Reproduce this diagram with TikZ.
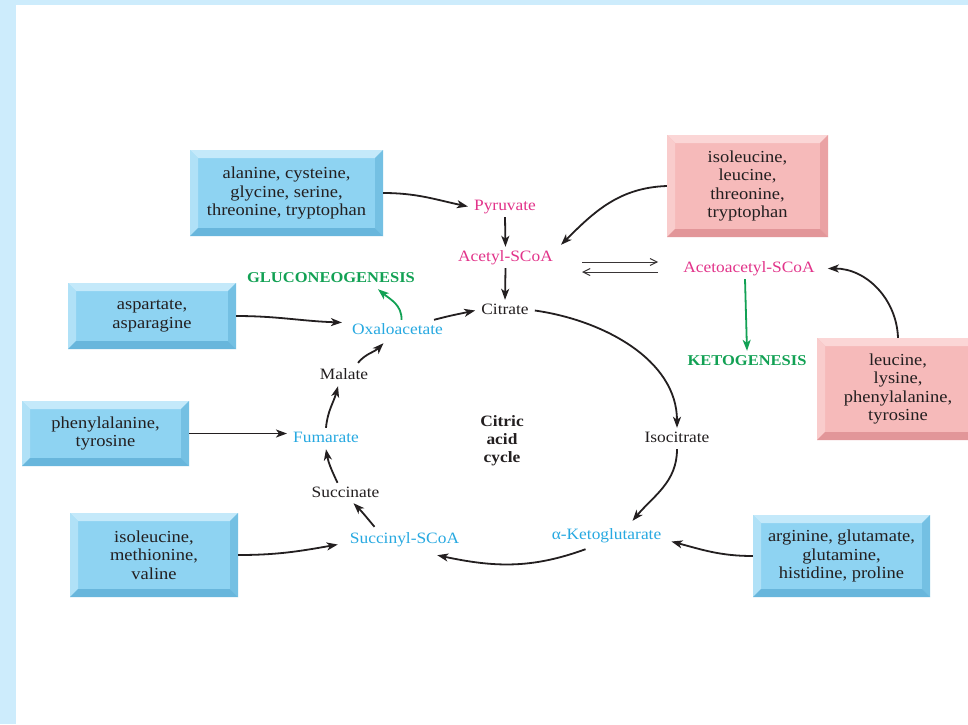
\documentclass[tikz,border=0pt]{standalone}
\usepackage{fontspec}
\setmainfont{Liberation Serif}[FakeStretch=1.1]
\usetikzlibrary{arrows.meta,calc}

\definecolor{framebg}{RGB}{205,236,252}
\definecolor{inkblack}{RGB}{35,31,32}
\definecolor{metpink}{RGB}{226,51,138}
\definecolor{metblue}{RGB}{39,169,225}
\definecolor{metgreen}{RGB}{18,161,84}
% blue bevelled panels
\definecolor{bface}{RGB}{142,211,242}
\definecolor{btop}{RGB}{196,233,250}
\definecolor{bleft}{RGB}{176,225,247}
\definecolor{bright}{RGB}{116,192,227}
\definecolor{bbottom}{RGB}{104,182,220}
% pink bevelled panels
\definecolor{pface}{RGB}{246,186,186}
\definecolor{ptop}{RGB}{251,214,214}
\definecolor{pleft}{RGB}{249,204,204}
\definecolor{pright}{RGB}{234,162,164}
\definecolor{pbottom}{RGB}{226,150,153}

\newcommand\boxfont{\fontsize{16.8}{18.5}\selectfont}
\newcommand\labfont{\fontsize{15.8}{18}\selectfont}

\tikzset{
  bevelbox/.style n args={5}{
    draw=none, fill=#1, inner sep=0pt, align=center, font=\boxfont, text=inkblack,
    path picture={
      \fill[#2] let \p1=(path picture bounding box.north west),
                    \p2=(path picture bounding box.south east) in
        (\x1,\y1) -- (\x2,\y1) -- ({\x2-8pt},{\y1-8pt}) -- ({\x1+8pt},{\y1-8pt}) -- cycle;
      \fill[#3] let \p1=(path picture bounding box.north west),
                    \p2=(path picture bounding box.south east) in
        (\x1,\y1) -- ({\x1+8pt},{\y1-8pt}) -- ({\x1+8pt},{\y2+8pt}) -- (\x1,\y2) -- cycle;
      \fill[#4] let \p1=(path picture bounding box.north west),
                    \p2=(path picture bounding box.south east) in
        (\x2,\y1) -- (\x2,\y2) -- ({\x2-8pt},{\y2+8pt}) -- ({\x2-8pt},{\y1-8pt}) -- cycle;
      \fill[#5] let \p1=(path picture bounding box.north west),
                    \p2=(path picture bounding box.south east) in
        (\x1,\y2) -- ({\x1+8pt},{\y2+8pt}) -- ({\x2-8pt},{\y2+8pt}) -- (\x2,\y2) -- cycle;
    }
  },
  bluebox/.style={bevelbox={bface}{btop}{bleft}{bright}{bbottom}},
  pinkbox/.style={bevelbox={pface}{ptop}{pleft}{pright}{pbottom}},
  lab/.style={inner xsep=6pt, inner ysep=3pt, text height=11pt, text depth=4pt,
              font=\labfont, anchor=base, text=inkblack},
  pinklab/.style={lab, text=metpink},
  bluelab/.style={lab, text=metblue},
  greenlab/.style={lab, text=metgreen, font=\fontsize{15}{18}\selectfont\bfseries},
  arr/.style={line width=1.8pt, draw=inkblack,
              -{Stealth[length=11pt,width=8pt,inset=3pt]}},
  garr/.style={arr, draw=metgreen},
  thinarr/.style={line width=1pt, draw=inkblack!90,
                  -{Straight Barb[length=7pt,width=7pt]}}
}

\begin{document}
\begin{tikzpicture}[x=1pt,y=-1pt]
\useasboundingbox (0,0) rectangle (968,724);
\fill[framebg] (0,0) rectangle (968,724);
\fill[white] (16,5) rectangle (968,724);

% amino-acid panels
\node[bluebox, minimum width=193pt, minimum height=86pt] (ala) at (286.5,193)
  {alanine, cysteine,\\glycine, serine,\\threonine, tryptophan};
\node[bluebox, minimum width=168pt, minimum height=66pt] (asp) at (152,316)
  {aspartate,\\asparagine};
\node[bluebox, minimum width=167pt, minimum height=65pt] (phe) at (105.5,433.5)
  {phenylalanine,\\tyrosine};
\node[bluebox, minimum width=168pt, minimum height=84pt] (met) at (154,555)
  {isoleucine,\\methionine,\\valine};
\node[bluebox, minimum width=177pt, minimum height=82pt] (arg) at (841.5,556)
  {arginine, glutamate,\\glutamine,\\histidine, proline};
\node[pinkbox, minimum width=161pt, minimum height=102pt] (ilt) at (747.5,186)
  {isoleucine,\\leucine,\\threonine,\\tryptophan};
\node[pinkbox, minimum width=162pt, minimum height=102pt] (lly) at (898,389)
  {leucine,\\lysine,\\phenylalanine,\\tyrosine};

% metabolites
\node[pinklab] (pyr) at (505,210) {Pyruvate};
\node[pinklab] (acc) at (505.5,261) {Acetyl-SCoA};
\node[lab] (cit) at (505,314) {Citrate};
\node[pinklab] (aca) at (749,272) {Acetoacetyl-SCoA};
\node[greenlab] (keto) at (747,365) {KETOGENESIS};
\node[greenlab] (glu) at (331,282) {GLUCONEOGENESIS};
\node[bluelab] (oxa) at (397.5,334) {Oxaloacetate};
\node[lab] (mal) at (344,379) {Malate};
\node[bluelab] (fum) at (326,442) {Fumarate};
\node[lab] (scn) at (345.5,497) {Succinate};
\node[bluelab] (sca) at (404.5,543) {Succinyl-SCoA};
\node[bluelab] (akg) at (606.5,539) {α-Ketoglutarate};
\node[lab] (ict) at (677,442) {Isocitrate};
\node[align=center, inner sep=0pt, font=\labfont\bfseries, text=inkblack]
  (cac) at (502,441) {Citric\\acid\\cycle};

% feeder arrows from the panels
\draw[arr] (ala.east) to[out=0,in=168] (pyr.west);
\draw[arr] (ilt.west) to[out=182,in=45] ([shift={(2,-2)}]acc.north east);
\draw[arr] (asp.east) to[out=0,in=178] ([shift={(-4,-8)}]oxa.west);
\draw[arr] (phe.east) -- (phe.east -| fum.west);
\draw[arr] (met.east) to[out=0,in=190] ([shift={(-6,5)}]sca.west);
\draw[arr] (arg.west) to[out=180,in=-15] ([shift={(4,6)}]akg.east);
\draw[arr] (lly.north) to[out=92,in=0] ([shift={(7,0)}]aca.east);

% entry into the cycle
\draw[arr] (pyr.south) -- (acc.north);
\draw[arr] (acc.south) -- (cit.north);
\draw[thinarr] ([shift={(23,4.5)}]acc.east) -- ([shift={(-19,-6.5)}]aca.west);
\draw[thinarr] ([shift={(-19,3.5)}]aca.west) -- ([shift={(23,14.5)}]acc.east);
\draw[garr] ([xshift=-4pt]aca.south) -- ([xshift=-2pt]aca.south |- keto.north);
\draw[garr] ([xshift=4pt]oxa.north) to[out=88,in=-40] ([shift={(47,0)}]glu.south);

% citric acid cycle
\draw[arr] ([xshift=-15pt]oxa.north east) to[out=15,in=192] (cit.west);
\draw[arr] (cit.east) to[out=-8,in=90,looseness=0.95] (ict.north);
\draw[arr] (ict.south) to[out=-90,in=50] ([shift={(26,-4)}]akg.north);
\draw[arr] ([shift={(-21,3)}]akg.south) to[out=200,in=-12] ([shift={(-28,5)}]sca.south east);
\draw[arr] ([shift={(-30,-2)}]sca.north) to[out=130,in=-45] ([shift={(8,-1)}]scn.south);
\draw[arr] ([shift={(-8,0)}]scn.north) to[out=115,in=-80] (fum.south);
\draw[arr] (fum.north) to[out=85,in=-105] ([shift={(-6,0)}]mal.south);
\draw[arr] ([shift={(14,-2)}]mal.north) to[out=50,in=-135] ([shift={(-14,2)}]oxa.south);
\end{tikzpicture}
\end{document}
